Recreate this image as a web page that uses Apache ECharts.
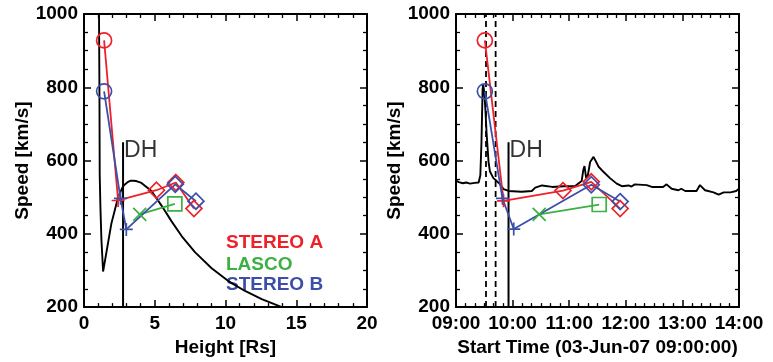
<!DOCTYPE html>
<html>
<head>
<meta charset="utf-8">
<script src="https://cdn.jsdelivr.net/npm/echarts@6/dist/echarts.min.js"></script>
<style>
  html, body { margin: 0; padding: 0; background: #fff; }
  #chart { width: 773px; height: 362px; }
</style>
</head>
<body>
<div id="chart"></div>
<script>
// ---------------- data ----------------
const seriesNames = ['STEREO A', 'LASCO', 'STEREO B'];

// Left panel: speed vs height
const leftRedH = [1.42, 2.41, 5.12, 6.49, 7.77];
const leftRedV = [928, 491, 519, 540, 469];
const leftBlueH = [1.42, 2.58, 2.99, 6.45, 7.91];
const leftBlueV = [789, 497, 412, 535, 489];
const leftGreenH = [3.94, 6.42];
const leftGreenV = [453, 482];

const redSymbols = ['circle', 'plus', 'diamond', 'diamond', 'diamond'];
const blueSymbols = ['circle', 'plus', 'plus', 'diamond', 'diamond'];
const greenSymbols = ['cross', 'square'];

// model curve (black) on left panel
const modelH = [1.03, 1.06, 1.09, 1.11, 1.16, 1.23, 1.35, 1.94, 2.41, 2.76, 2.95, 3.12, 3.3, 3.47, 3.7, 4.06, 4.77, 5.48, 6.19, 6.9, 7.84, 9.02, 10.2, 11.38, 12.56, 13.98, 14.6];
const modelV = [1060, 1000, 800, 561, 473, 385, 297, 429, 500, 530, 537, 542, 545, 545, 544, 539, 517, 477, 434, 394, 350, 306, 271, 244, 222, 200, 192];

// Right panel: speed vs start time (decimal hours)
const rightRedT = [9.51, 9.84, 10.89, 11.39, 11.9];
const rightRedV = [928, 490, 518, 542, 469];
const rightBlueT = [9.51, 9.82, 10.02, 11.39, 11.9];
const rightBlueV = [789, 497, 413, 534, 488];
const rightGreenT = [10.47, 11.53];
const rightGreenV = [453, 480];

// observed time series (black) on right panel
const obsT = [9.0, 9.05, 9.12, 9.18, 9.25, 9.33, 9.4, 9.43, 9.45, 9.47, 9.48, 9.5, 9.52, 9.54, 9.575, 9.6, 9.66, 9.72, 9.78, 9.84, 9.93, 10.16, 10.34, 10.4, 10.52, 10.7, 10.9, 11.1, 11.22, 11.25, 11.27, 11.3, 11.33, 11.37, 11.43, 11.45, 11.52, 11.6, 11.72, 11.84, 11.93, 12.05, 12.1, 12.16, 12.37, 12.46, 12.66, 12.72, 12.81, 12.93, 12.98, 13.05, 13.25, 13.31, 13.4, 13.55, 13.64, 13.73, 13.85, 13.95, 14.0];
const obsV = [545, 541, 538, 540, 537, 539, 540, 560, 650, 795, 808, 786, 738, 676, 596, 570, 552, 544, 535, 522, 517, 515, 517, 526, 532, 528, 530, 530, 544, 575, 585, 552, 560, 596, 610, 607, 583, 570, 552, 537, 530, 532, 529, 535, 533, 528, 528, 535, 523, 519, 523, 517, 517, 533, 519, 513, 507, 513, 513, 517, 523];

// DH markers
const dhHeight = 2.76;
const dhTime = 9.928;
const dhRange = [200, 650];
const dashedTimes = [9.53, 9.70];

// axis ranges / ticks
const heightTicks = { min: 0, max: 20, interval: 5 };
const timeTicks = { min: 9, max: 14, interval: 1 };
const speedTicks = { min: 200, max: 1000, interval: 200 };

// ---------------- styles ----------------
const RED = '#ee2128';
const GREEN = '#3cb043';
const BLUE = '#3b4fa8';
const FONT = '"Liberation Sans", Helvetica, Arial, sans-serif';

const symbolPaths = {
  circle: 'circle',
  diamond: 'diamond',
  square: 'rect',
  plus: 'path://M0,5L10,5M5,0L5,10',
  cross: 'path://M0,0L10,10M0,10L10,0'
};
const symbolSizes = { circle: 15, diamond: 16, square: 14, plus: 13, cross: 13 };

function pts(xs, ys, syms) {
  return xs.map((x, i) => {
    const s = syms ? syms[i] : null;
    const d = { value: [x, ys[i]] };
    if (s) { d.symbol = symbolPaths[s]; d.symbolSize = symbolSizes[s]; }
    return d;
  });
}

function colored(name, color, xs, ys, syms, xi, yi) {
  return {
    name: name, type: 'line', xAxisIndex: xi, yAxisIndex: yi,
    data: pts(xs, ys, syms),
    showAllSymbol: true,
    lineStyle: { color: color, width: 1.8 },
    itemStyle: { color: 'rgba(0,0,0,0)', borderColor: color, borderWidth: 1.7 },
    z: 5, silent: true, animation: false
  };
}

function blackLine(xs, ys, xi, yi, extra) {
  return Object.assign({
    type: 'line', xAxisIndex: xi, yAxisIndex: yi,
    data: xs.map((x, i) => [x, ys[i]]),
    symbol: 'none', lineStyle: { color: '#000', width: 1.9 },
    clip: true, silent: true, animation: false, z: 3
  }, extra || {});
}

function dhLabel(x, xi, yi) {
  return {
    type: 'scatter', xAxisIndex: xi, yAxisIndex: yi, symbolSize: 0,
    data: [[x, dhRange[1]]], silent: true, animation: false,
    label: {
      show: true, formatter: 'DH', position: [1, -3], align: 'left', verticalAlign: 'top',
      fontFamily: FONT, fontSize: 23, color: '#000', fontWeight: 'normal'
    }
  };
}

const axisLineStyle = { show: true, onZero: false, lineStyle: { color: '#000', width: 2 } };
const tickStyle = { show: true, inside: true, length: 7, lineStyle: { color: '#000', width: 1.5 } };
const labelStyle = { fontFamily: FONT, fontSize: 19, fontWeight: 'bold', color: '#000' };

function xAxes(gridIndex, rng, minorSplit, fmt, name) {
  const main = {
    type: 'value', gridIndex: gridIndex, position: 'bottom',
    min: rng.min, max: rng.max, interval: rng.interval,
    axisLine: axisLineStyle, axisTick: tickStyle,
    minorTick: { show: true, splitNumber: minorSplit, length: 4, lineStyle: { color: '#000', width: 1.3 } },
    splitLine: { show: false },
    axisLabel: Object.assign({ margin: 7, formatter: fmt, showMinLabel: true, showMaxLabel: true }, labelStyle),
    name: name, nameLocation: 'middle', nameGap: 23,
    nameTextStyle: { fontFamily: FONT, fontSize: 19, fontWeight: 'bold', color: '#000' }
  };
  const mirror = Object.assign({}, main, { position: 'top', axisLabel: { show: false }, name: '' });
  return [main, mirror];
}

function yAxes(gridIndex) {
  const main = {
    type: 'value', gridIndex: gridIndex, position: 'left',
    min: speedTicks.min, max: speedTicks.max, interval: speedTicks.interval,
    axisLine: axisLineStyle, axisTick: tickStyle,
    minorTick: { show: true, splitNumber: 4, length: 4, lineStyle: { color: '#000', width: 1.3 } },
    splitLine: { show: false },
    axisLabel: Object.assign({ margin: 6, formatter: v => String(v) }, labelStyle),
    name: 'Speed [km/s]', nameLocation: 'middle', nameGap: 50, nameRotate: 90,
    nameTextStyle: { fontFamily: FONT, fontSize: 19, fontWeight: 'bold', color: '#000' }
  };
  const mirror = Object.assign({}, main, { position: 'right', axisLabel: { show: false }, name: '' });
  return [main, mirror];
}

const timeFmt = v => String(Math.round(v)).padStart(2, '0') + ':00';

const chart = echarts.init(document.getElementById('chart'), null, { renderer: 'canvas' });

const legendY = [243, 265, 285];
const legendColors = [RED, GREEN, BLUE];

chart.setOption({
  animation: false,
  backgroundColor: '#fff',
  grid: [
    { left: 84, top: 14, width: 283, height: 303 },
    { left: 456, top: 14, width: 283, height: 303 }
  ],
  xAxis: [].concat(
    xAxes(0, heightTicks, 5, v => String(v), 'Height [Rs]'),
    xAxes(1, timeTicks, 6, timeFmt, 'Start Time (03-Jun-07 09:00:00)')
  ),
  yAxis: [].concat(yAxes(0), yAxes(1)),
  graphic: seriesNames.map((n, i) => ({
    type: 'text', x: 226, y: legendY[i], silent: true,
    style: { text: n, fill: legendColors[i], font: 'bold 19px ' + FONT, verticalAlign: 'middle', align: 'left' }
  })),
  series: [
    // left panel
    blackLine(modelH, modelV, 0, 0),
    blackLine([dhHeight, dhHeight], dhRange, 0, 0, { lineStyle: { color: '#000', width: 2 } }),
    dhLabel(dhHeight, 0, 0),
    colored(seriesNames[0], RED, leftRedH, leftRedV, redSymbols, 0, 0),
    colored(seriesNames[1], GREEN, leftGreenH, leftGreenV, greenSymbols, 0, 0),
    colored(seriesNames[2], BLUE, leftBlueH, leftBlueV, blueSymbols, 0, 0),
    // right panel
    blackLine(obsT, obsV, 2, 2),
    blackLine([dashedTimes[0], dashedTimes[0]], [speedTicks.min, speedTicks.max], 2, 2,
      { lineStyle: { color: '#000', width: 1.8, type: [6, 4] } }),
    blackLine([dashedTimes[1], dashedTimes[1]], [speedTicks.min, speedTicks.max], 2, 2,
      { lineStyle: { color: '#000', width: 1.8, type: [6, 4] } }),
    blackLine([dhTime, dhTime], dhRange, 2, 2, { lineStyle: { color: '#000', width: 2 } }),
    dhLabel(dhTime, 2, 2),
    colored(seriesNames[0], RED, rightRedT, rightRedV, redSymbols, 2, 2),
    colored(seriesNames[1], GREEN, rightGreenT, rightGreenV, greenSymbols, 2, 2),
    colored(seriesNames[2], BLUE, rightBlueT, rightBlueV, blueSymbols, 2, 2)
  ]
});
</script>
</body>
</html>
